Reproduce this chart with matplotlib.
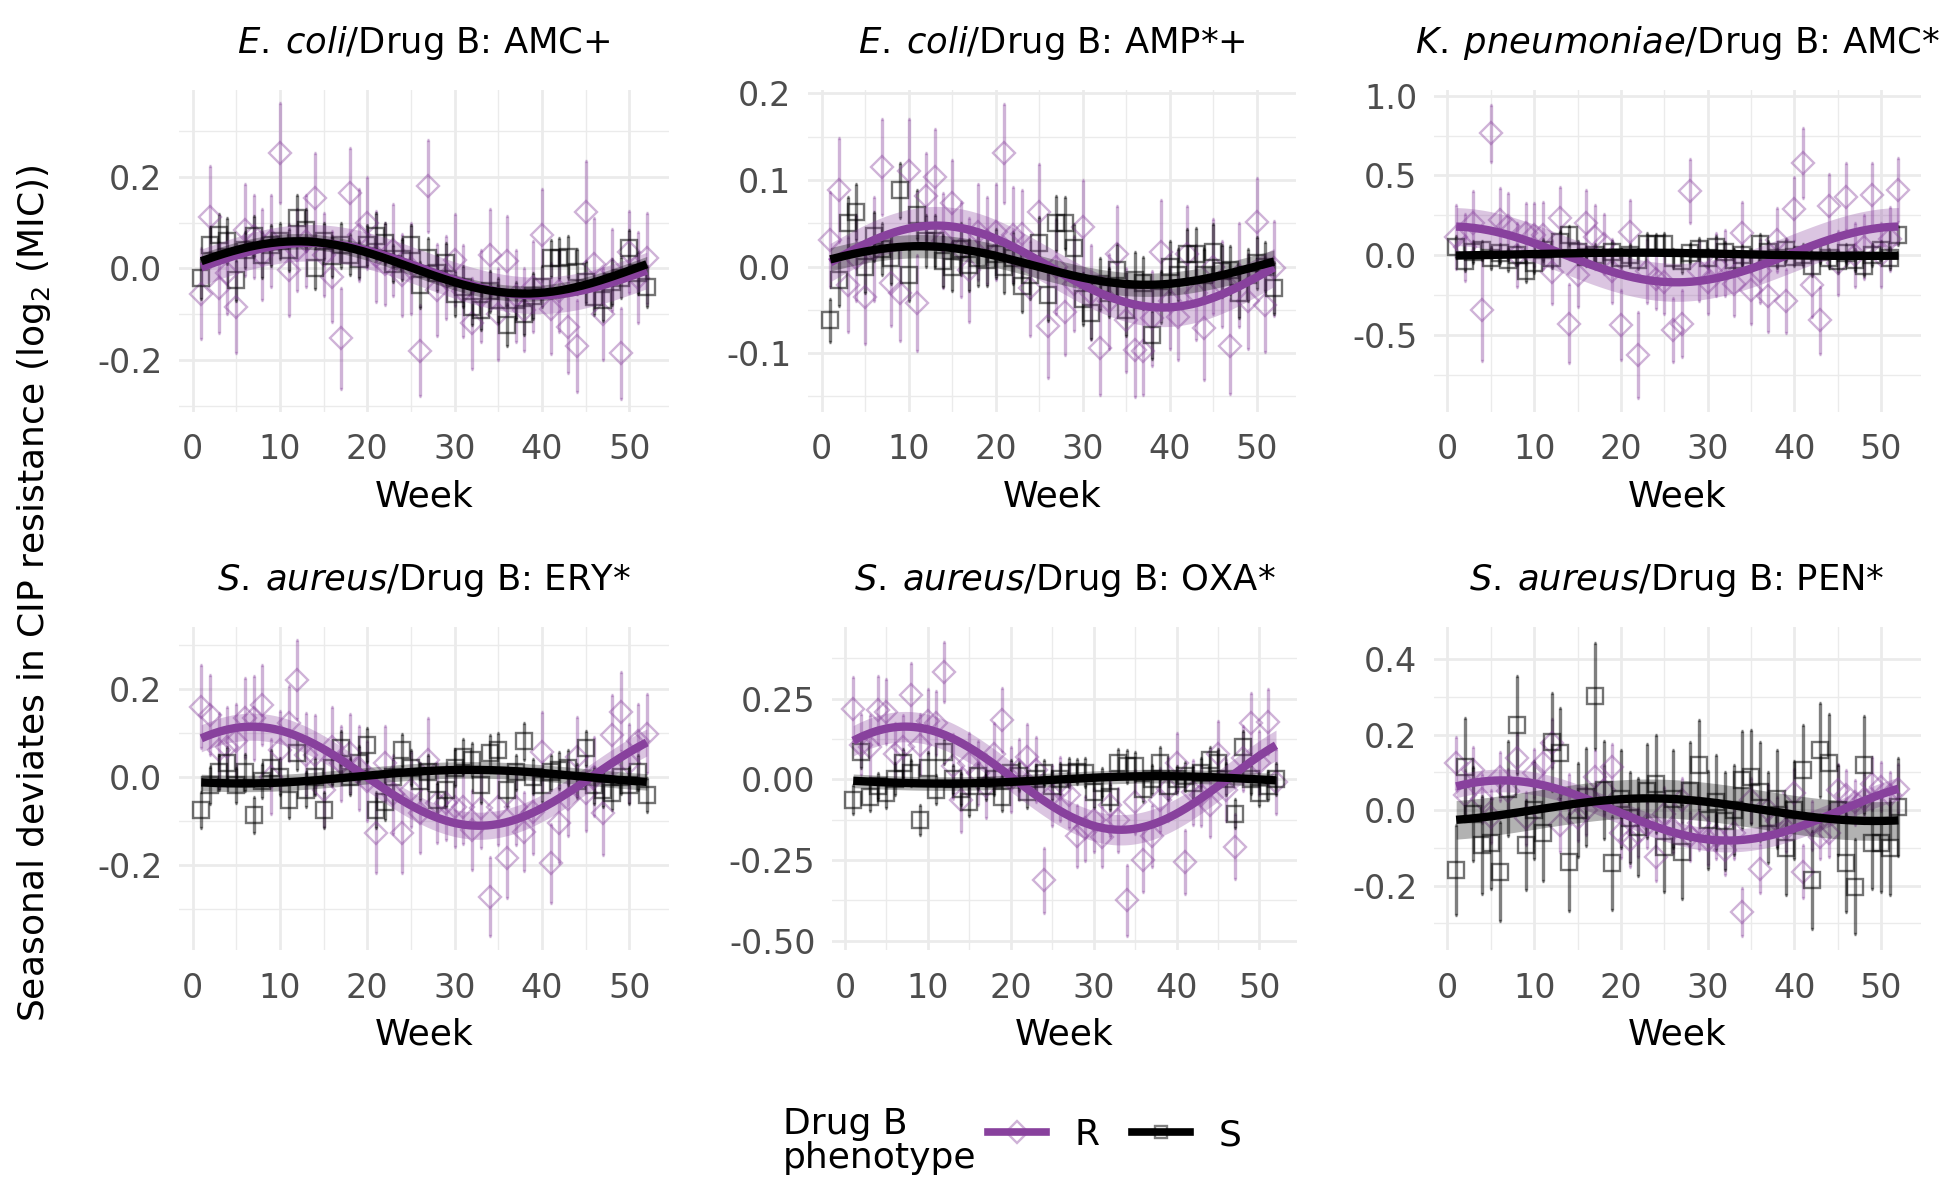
import numpy as np
import matplotlib.pyplot as plt
from matplotlib.lines import Line2D
from matplotlib.legend_handler import HandlerTuple
from matplotlib.ticker import MultipleLocator, FormatStrFormatter

plt.rcParams['font.family'] = ['DejaVu Sans']
plt.rcParams['mathtext.fontset'] = 'dejavusans'
plt.rcParams['axes.unicode_minus'] = False

weeks = np.arange(1, 53)

titles = [r'$\mathit{E.\:coli}$/Drug B: AMC+',
          r'$\mathit{E.\:coli}$/Drug B: AMP*+',
          r'$\mathit{K.\:pneumoniae}$/Drug B: AMC*',
          r'$\mathit{S.\:aureus}$/Drug B: ERY*',
          r'$\mathit{S.\:aureus}$/Drug B: OXA*',
          r'$\mathit{S.\:aureus}$/Drug B: PEN*']

# weekly deviates (weeks 1..52), R = drug B resistant, S = susceptible
ecoli_amc_R = [-0.055, 0.113, -0.042, -0.01, -0.084, 0.084, 0.07, 0.03, 0.06, 0.252, -0.004, 0.04, 0.06,
               0.153, 0.03, -0.018, -0.153, 0.164, 0.073, 0.099, 0.026, 0.01, 0.04, -0.015, 0.0, -0.18,
               0.18, -0.047, -0.02, 0.018, -0.05, -0.12, -0.06, 0.03, -0.1, 0.015, -0.06, -0.09, -0.04,
               0.073, -0.088, -0.05, -0.128, -0.17, 0.124, 0.01, -0.1, -0.004, -0.186, 0.036, -0.02, 0.022]
ecoli_amc_R_err = [0.10, 0.11, 0.10, 0.09, 0.10, 0.10, 0.09, 0.10, 0.10, 0.11, 0.10, 0.09, 0.10,
                   0.10, 0.09, 0.10, 0.11, 0.10, 0.10, 0.10, 0.10, 0.09, 0.10, 0.09, 0.10, 0.10,
                   0.10, 0.10, 0.09, 0.10, 0.10, 0.10, 0.10, 0.10, 0.10, 0.10, 0.10, 0.09, 0.10,
                   0.10, 0.10, 0.09, 0.10, 0.10, 0.11, 0.10, 0.10, 0.09, 0.10, 0.09, 0.10, 0.10]
ecoli_amc_S = [-0.022, 0.05, 0.073, 0.06, -0.026, 0.04, 0.07, 0.03, 0.05, 0.06, 0.04, 0.11, 0.084,
               0.0, 0.06, 0.026, 0.05, 0.03, 0.02, 0.05, 0.07, 0.055, 0.01, 0.02, 0.05, -0.036,
               0.022, -0.01, 0.011, -0.055, -0.04, -0.084, -0.09, -0.05, -0.07, -0.124, -0.07, -0.1, -0.06,
               -0.04, 0.022, 0.022, 0.025, -0.007, -0.03, -0.062, -0.07, -0.03, -0.02, 0.044, -0.01, -0.04]
ecoli_amc_S_err = [0.045, 0.04, 0.045, 0.05, 0.045, 0.04, 0.045, 0.05, 0.045, 0.04, 0.045, 0.05, 0.045,
                   0.045, 0.04, 0.045, 0.05, 0.045, 0.04, 0.045, 0.05, 0.045, 0.04, 0.045, 0.045, 0.05,
                   0.045, 0.04, 0.045, 0.05, 0.045, 0.04, 0.045, 0.045, 0.05, 0.045, 0.04, 0.045, 0.05,
                   0.045, 0.04, 0.045, 0.045, 0.05, 0.045, 0.04, 0.045, 0.05, 0.045, 0.04, 0.045, 0.045]

ecoli_amp_R = [0.031, 0.088, -0.021, 0.01, -0.035, 0.02, 0.115, -0.019, -0.031, 0.11, -0.042, 0.081, 0.104,
               0.03, 0.073, 0.02, -0.004, 0.04, 0.03, 0.04, 0.131, 0.037, 0.038, -0.025, 0.063, -0.069,
               0.0, -0.052, -0.02, 0.046, -0.03, -0.094, -0.04, 0.015, -0.062, -0.096, -0.098, -0.06, 0.017,
               -0.04, -0.058, 0.015, -0.03, -0.071, 0.0, -0.02, -0.092, -0.01, -0.04, 0.052, -0.044, -0.002]
ecoli_amp_R_err = [0.055, 0.06, 0.055, 0.05, 0.055, 0.06, 0.055, 0.05, 0.055, 0.06, 0.055, 0.05, 0.055,
                   0.055, 0.05, 0.055, 0.06, 0.055, 0.05, 0.055, 0.057, 0.055, 0.05, 0.055, 0.055, 0.06,
                   0.055, 0.05, 0.055, 0.054, 0.055, 0.054, 0.055, 0.055, 0.06, 0.055, 0.05, 0.055, 0.06,
                   0.055, 0.05, 0.055, 0.055, 0.06, 0.055, 0.05, 0.055, 0.06, 0.055, 0.05, 0.055, 0.055]
ecoli_amp_S = [-0.062, -0.015, 0.05, 0.063, 0.0, 0.035, 0.02, 0.01, 0.088, -0.01, 0.06, 0.03, 0.03,
               0.006, 0.0, 0.02, 0.002, 0.01, 0.008, 0.015, 0.0, 0.01, -0.023, -0.01, 0.027, -0.033,
               0.05, 0.05, 0.021, -0.037, -0.054, -0.02, -0.03, -0.004, -0.05, -0.015, -0.019, -0.079, -0.035,
               0.0, -0.01, 0.015, 0.015, -0.01, 0.017, -0.005, -0.004, -0.03, -0.01, 0.004, 0.0, -0.025]
ecoli_amp_S_err = [0.025, 0.03, 0.03, 0.032, 0.03, 0.028, 0.03, 0.03, 0.032, 0.03, 0.028, 0.03, 0.03,
                   0.03, 0.028, 0.03, 0.03, 0.032, 0.03, 0.028, 0.03, 0.03, 0.03, 0.028, 0.03, 0.03,
                   0.032, 0.03, 0.028, 0.03, 0.03, 0.03, 0.028, 0.03, 0.03, 0.032, 0.03, 0.028, 0.03,
                   0.03, 0.03, 0.028, 0.03, 0.03, 0.032, 0.03, 0.028, 0.03, 0.03, 0.03, 0.028, 0.03]

kpneu_amc_R = [0.115, 0.05, 0.2, -0.345, 0.764, 0.22, 0.18, 0.0, 0.136, 0.125, 0.125, -0.105, 0.23,
               -0.43, -0.126, 0.2, 0.115, 0.07, -0.1, -0.44, 0.146, -0.63, -0.1, -0.15, -0.17, -0.47,
               -0.43, 0.4, -0.1, -0.17, -0.06, -0.05, -0.18, 0.136, -0.22, -0.1, -0.26, 0.094, -0.29,
               0.29, 0.575, -0.19, -0.41, 0.31, -0.05, 0.366, 0.0, 0.05, 0.377, 0.0, 0.1, 0.408]
kpneu_amc_R_err = [0.2, 0.21, 0.2, 0.32, 0.18, 0.2, 0.21, 0.2, 0.19, 0.2, 0.21, 0.2, 0.2,
                   0.25, 0.2, 0.21, 0.2, 0.19, 0.2, 0.22, 0.2, 0.27, 0.2, 0.19, 0.2, 0.2,
                   0.21, 0.2, 0.19, 0.2, 0.2, 0.21, 0.2, 0.2, 0.21, 0.2, 0.22, 0.2, 0.2,
                   0.2, 0.22, 0.2, 0.21, 0.2, 0.2, 0.21, 0.2, 0.2, 0.2, 0.2, 0.2, 0.2]
kpneu_amc_S = [0.05, -0.04, 0.02, 0.03, -0.02, 0.01, -0.03, 0.0, -0.1, -0.05, 0.03, -0.02, 0.08,
               0.125, 0.02, -0.01, 0.0, -0.03, 0.02, -0.02, 0.0, -0.03, 0.07, 0.07, 0.07, -0.02,
               -0.04, 0.01, 0.04, -0.02, 0.05, 0.02, -0.03, 0.0, -0.03, 0.07, 0.02, -0.02, 0.03,
               -0.01, 0.0, -0.07, 0.02, -0.02, -0.04, 0.01, -0.03, -0.07, 0.0, 0.03, -0.02, 0.125]
kpneu_amc_S_err = [0.07, 0.06, 0.07, 0.06, 0.07, 0.06, 0.07, 0.06, 0.07, 0.06, 0.07, 0.06, 0.07,
                   0.06, 0.07, 0.06, 0.07, 0.06, 0.07, 0.06, 0.07, 0.06, 0.07, 0.06, 0.07, 0.06,
                   0.07, 0.06, 0.07, 0.06, 0.07, 0.06, 0.07, 0.06, 0.07, 0.06, 0.07, 0.06, 0.07,
                   0.06, 0.07, 0.06, 0.07, 0.06, 0.07, 0.06, 0.07, 0.06, 0.07, 0.06, 0.07, 0.06]

saur_ery_R = [0.159, 0.14, 0.06, 0.068, 0.08, 0.133, 0.133, 0.163, 0.0, 0.06, 0.121, 0.22, 0.05,
              0.05, -0.03, 0.068, 0.03, 0.053, 0.02, -0.01, -0.129, 0.03, -0.04, -0.129, -0.03, -0.083,
              0.038, -0.06, -0.06, -0.07, -0.068, -0.121, -0.072, -0.273, -0.07, -0.186, -0.07, -0.125, -0.08,
              0.057, -0.197, -0.106, -0.05, 0.045, -0.038, 0.0, -0.083, 0.095, 0.148, 0.03, 0.08, 0.098]
saur_ery_R_err = [0.095, 0.09, 0.085, 0.09, 0.085, 0.09, 0.095, 0.09, 0.085, 0.09, 0.085, 0.09, 0.095,
                  0.09, 0.085, 0.09, 0.085, 0.09, 0.095, 0.09, 0.09, 0.085, 0.09, 0.09, 0.085, 0.09,
                  0.095, 0.09, 0.085, 0.09, 0.085, 0.09, 0.09, 0.09, 0.085, 0.09, 0.085, 0.09, 0.095,
                  0.09, 0.09, 0.09, 0.085, 0.09, 0.085, 0.09, 0.095, 0.09, 0.09, 0.09, 0.085, 0.09]
saur_ery_S = [-0.076, -0.02, 0.01, 0.03, -0.02, 0.01, -0.087, -0.01, 0.02, 0.0, -0.053, 0.053, -0.03,
              0.0, -0.076, 0.02, 0.064, 0.0, 0.03, 0.072, -0.076, -0.057, 0.0, 0.06, 0.02, -0.01,
              0.01, -0.053, -0.03, 0.02, 0.045, 0.038, -0.02, 0.053, 0.06, -0.03, 0.01, 0.08, 0.0,
              -0.02, 0.01, 0.015, 0.02, -0.01, 0.064, -0.02, -0.03, -0.038, 0.0, -0.02, 0.01, -0.042]
saur_ery_S_err = [0.04, 0.042, 0.04, 0.038, 0.04, 0.042, 0.04, 0.038, 0.04, 0.042, 0.04, 0.038, 0.04,
                  0.042, 0.04, 0.038, 0.04, 0.042, 0.04, 0.038, 0.04, 0.042, 0.04, 0.038, 0.04, 0.042,
                  0.04, 0.038, 0.04, 0.042, 0.04, 0.038, 0.04, 0.042, 0.04, 0.038, 0.04, 0.042, 0.04,
                  0.038, 0.04, 0.042, 0.04, 0.038, 0.04, 0.042, 0.04, 0.038, 0.04, 0.042, 0.04, 0.038]

saur_oxa_R = [0.217, 0.107, 0.1, 0.215, 0.21, 0.08, 0.1, 0.26, 0.107, 0.18, 0.174, 0.334, 0.04,
              -0.064, 0.05, 0.02, -0.02, 0.08, 0.184, 0.0, 0.03, 0.07, 0.03, -0.313, -0.05, -0.03,
              -0.05, -0.176, -0.152, -0.126, -0.178, -0.08, -0.126, -0.375, -0.07, -0.25, -0.176, -0.064, -0.03,
              0.05, -0.256, -0.04, -0.05, -0.08, 0.08, -0.033, -0.209, 0.065, 0.174, 0.05, 0.179, -0.007]
saur_oxa_R_err = [0.1, 0.095, 0.1, 0.105, 0.1, 0.095, 0.1, 0.1, 0.095, 0.1, 0.1, 0.093, 0.1,
                  0.1, 0.095, 0.1, 0.1, 0.095, 0.1, 0.1, 0.095, 0.1, 0.1, 0.1, 0.095, 0.1,
                  0.1, 0.095, 0.1, 0.1, 0.095, 0.1, 0.1, 0.109, 0.1, 0.1, 0.095, 0.1, 0.1,
                  0.095, 0.1, 0.1, 0.095, 0.1, 0.1, 0.095, 0.1, 0.1, 0.095, 0.1, 0.1, 0.1]
saur_oxa_S = [-0.064, 0.086, -0.054, -0.02, -0.043, 0.0, 0.05, 0.02, -0.126, 0.034, -0.033, 0.086, 0.0,
              -0.03, -0.07, 0.01, -0.02, 0.0, -0.054, 0.02, 0.01, -0.04, 0.0, 0.02, -0.02, 0.0,
              0.02, 0.024, 0.02, -0.04, -0.01, -0.054, 0.05, 0.04, 0.04, -0.03, 0.0, 0.05, -0.02,
              0.0, 0.01, -0.01, 0.02, 0.06, 0.05, 0.0, -0.106, 0.101, 0.0, -0.043, -0.02, 0.0]
saur_oxa_S_err = [0.045, 0.05, 0.045, 0.04, 0.045, 0.05, 0.045, 0.04, 0.045, 0.05, 0.045, 0.04, 0.045,
                  0.05, 0.045, 0.04, 0.045, 0.05, 0.045, 0.04, 0.045, 0.05, 0.045, 0.04, 0.045, 0.05,
                  0.045, 0.04, 0.045, 0.05, 0.045, 0.04, 0.045, 0.05, 0.045, 0.04, 0.045, 0.05, 0.045,
                  0.04, 0.045, 0.05, 0.045, 0.04, 0.045, 0.05, 0.045, 0.05, 0.045, 0.04, 0.045, 0.05]

saur_pen_R = [0.124, 0.04, 0.106, 0.03, -0.018, 0.088, 0.05, 0.137, -0.022, 0.097, 0.124, 0.177, -0.04,
              0.03, -0.022, 0.0, 0.088, 0.053, 0.115, -0.062, -0.08, -0.06, -0.04, -0.124, -0.01, -0.05,
              0.026, -0.07, -0.035, -0.08, -0.07, -0.106, -0.06, -0.27, 0.026, -0.155, 0.0, -0.03, -0.05,
              0.044, -0.163, -0.04, -0.071, -0.06, 0.053, 0.04, 0.02, 0.03, 0.07, 0.062, 0.04, 0.057]
saur_pen_R_err = [0.07, 0.065, 0.06, 0.065, 0.07, 0.065, 0.06, 0.065, 0.07, 0.065, 0.06, 0.065, 0.07,
                  0.065, 0.06, 0.065, 0.07, 0.065, 0.06, 0.065, 0.07, 0.065, 0.06, 0.065, 0.07, 0.065,
                  0.06, 0.065, 0.07, 0.065, 0.06, 0.065, 0.07, 0.064, 0.06, 0.065, 0.07, 0.065, 0.06,
                  0.065, 0.07, 0.065, 0.06, 0.065, 0.07, 0.065, 0.06, 0.065, 0.07, 0.065, 0.06, 0.065]
saur_pen_S = [-0.159, 0.115, -0.01, -0.093, -0.088, -0.163, 0.057, 0.225, -0.093, 0.0, -0.062, 0.181, 0.15,
              -0.137, 0.0, 0.035, 0.302, 0.053, -0.141, 0.03, -0.02, -0.044, 0.05, 0.07, -0.097, 0.03,
              -0.11, 0.05, 0.119, -0.026, 0.02, -0.03, 0.0, 0.08, 0.088, 0.049, -0.02, 0.03, -0.101,
              0.0, 0.106, -0.185, 0.159, 0.124, 0.0, -0.141, -0.203, 0.119, -0.088, -0.088, -0.1, 0.009]
saur_pen_S_err = [0.12, 0.13, 0.125, 0.13, 0.12, 0.13, 0.125, 0.13, 0.12, 0.13, 0.125, 0.13, 0.12,
                  0.13, 0.125, 0.13, 0.14, 0.13, 0.125, 0.13, 0.12, 0.13, 0.125, 0.13, 0.12, 0.13,
                  0.125, 0.13, 0.12, 0.13, 0.125, 0.13, 0.12, 0.13, 0.125, 0.13, 0.12, 0.13, 0.125,
                  0.13, 0.12, 0.13, 0.125, 0.13, 0.12, 0.13, 0.125, 0.13, 0.12, 0.13, 0.125, 0.13]

series = [
    (ecoli_amc_R, ecoli_amc_R_err, ecoli_amc_S, ecoli_amc_S_err),
    (ecoli_amp_R, ecoli_amp_R_err, ecoli_amp_S, ecoli_amp_S_err),
    (kpneu_amc_R, kpneu_amc_R_err, kpneu_amc_S, kpneu_amc_S_err),
    (saur_ery_R, saur_ery_R_err, saur_ery_S, saur_ery_S_err),
    (saur_oxa_R, saur_oxa_R_err, saur_oxa_S, saur_oxa_S_err),
    (saur_pen_R, saur_pen_R_err, saur_pen_S, saur_pen_S_err),
]

# layout (figure fractions), y ranges, tick steps
positions = [[0.0918, 0.6567, 0.2513, 0.2683], [0.4144, 0.6567, 0.2503, 0.2683], [0.7354, 0.6567, 0.2495, 0.2683],
             [0.0918, 0.2083, 0.2513, 0.2692], [0.4267, 0.2083, 0.2385, 0.2692], [0.7354, 0.2083, 0.2495, 0.2692]]
ylims = [(-0.314, 0.39), (-0.168, 0.204), (-0.985, 1.036), (-0.394, 0.34), (-0.529, 0.472), (-0.371, 0.485)]
ysteps = [0.2, 0.1, 0.5, 0.2, 0.25, 0.2]
yfmts = ['%.1f', '%.1f', '%.1f', '%.1f', '%.2f', '%.1f']

purple = '#88419D'
grid = '#EBEBEB'


def harmonic_fit(x, y, xs, period=52.0):
    # seasonal fit: intercept + one sine/cosine pair, with 95% band
    def design(t):
        return np.column_stack([np.ones_like(t), np.cos(2 * np.pi * t / period), np.sin(2 * np.pi * t / period)])
    X = design(x)
    y = np.asarray(y)
    beta = np.linalg.lstsq(X, y, rcond=None)[0]
    resid = y - X @ beta
    sigma2 = resid @ resid / (len(y) - 3)
    cov = sigma2 * np.linalg.inv(X.T @ X)
    Xs = design(xs)
    fit = Xs @ beta
    se = np.sqrt(np.einsum('ij,jk,ik->i', Xs, cov, Xs))
    return fit, 1.96 * se


fig = plt.figure(figsize=(19.5, 12), dpi=100)
xs = np.linspace(1, 52, 300)

for i in range(6):
    R, Rerr, S, Serr = series[i]
    ax = fig.add_axes(positions[i])

    # points with error bars
    ax.errorbar(weeks, R, yerr=Rerr, fmt='none', ecolor=purple, alpha=0.4,
                elinewidth=2.4, capsize=1.0, capthick=2.4, zorder=2)
    ax.plot(weeks, R, ls='none', marker='D', ms=10.8, mfc='none', mec=purple, mew=1.7, alpha=0.4, zorder=3)
    ax.errorbar(weeks, S, yerr=Serr, fmt='none', ecolor='black', alpha=0.5,
                elinewidth=2.4, capsize=1.0, capthick=2.4, zorder=2)
    ax.plot(weeks, S, ls='none', marker='s', ms=11.8, mfc='none', mec='black', mew=1.7, alpha=0.55, zorder=3)

    # fitted seasonal curves
    fitR, bandR = harmonic_fit(weeks, R, xs)
    fitS, bandS = harmonic_fit(weeks, S, xs)
    ax.fill_between(xs, fitR - bandR, fitR + bandR, color=purple, alpha=0.3, lw=0, zorder=4)
    ax.fill_between(xs, fitS - bandS, fitS + bandS, color='black', alpha=0.3, lw=0, zorder=4)
    ax.plot(xs, fitR, color=purple, lw=6, solid_capstyle='butt', zorder=5)
    ax.plot(xs, fitS, color='black', lw=6, solid_capstyle='butt', zorder=6)

    ax.set_xlim(-1.55, 54.55)
    ax.set_ylim(*ylims[i])
    ax.xaxis.set_major_locator(MultipleLocator(10))
    ax.xaxis.set_minor_locator(MultipleLocator(5))
    ax.yaxis.set_major_locator(MultipleLocator(ysteps[i]))
    ax.yaxis.set_minor_locator(MultipleLocator(ysteps[i] / 2))
    ax.yaxis.set_major_formatter(FormatStrFormatter(yfmts[i]))
    ax.grid(which='major', color=grid, lw=2.0, zorder=0)
    ax.grid(which='minor', color=grid, lw=1.0, zorder=0)
    ax.set_axisbelow(True)
    for sp in ax.spines.values():
        sp.set_visible(False)
    ax.tick_params(which='both', length=0, labelsize=24, labelcolor='#4D4D4D')
    ax.tick_params(axis='x', pad=15.5)
    ax.tick_params(axis='y', pad=12)
    ax.set_xlabel('Week', fontsize=26, labelpad=9.5)
    ax.annotate(titles[i], xy=(0.5, 1), xycoords='axes fraction', xytext=(0, 26.5),
                textcoords='offset points', ha='center', va='baseline', fontsize=25.5)

fig.text(34 / 1950, 1 - 593 / 1200, 'Seasonal deviates in CIP resistance (log$_2$ (MIC))',
         rotation=90, ha='center', va='center', fontsize=26)

# legend at the bottom
fig.text(783 / 1950, 1 - 1141 / 1200, 'Drug B\nphenotype', ha='left', va='center', fontsize=26, linespacing=1.0)
r_mark = Line2D([], [], ls='none', marker='D', ms=10.8, mfc='none', mec=purple, mew=1.7, alpha=0.4)
r_line = Line2D([], [], color=purple, lw=5.5)
s_mark = Line2D([], [], ls='none', marker='s', ms=9, mfc='none', mec='black', mew=1.7, alpha=0.5)
s_line = Line2D([], [], color='black', lw=5.5)
fig.legend(handles=[(r_mark, r_line), (s_mark, s_line)], labels=['R', 'S'],
           handler_map={tuple: HandlerTuple(ndivide=1)}, ncol=2, loc='center left',
           bbox_to_anchor=(988 / 1950, 1 - 1135 / 1200), frameon=False, fontsize=26,
           handlelength=1.6, handletextpad=0.8, columnspacing=0.9, borderpad=0, borderaxespad=0)

fig.savefig('out.png', dpi=100)
